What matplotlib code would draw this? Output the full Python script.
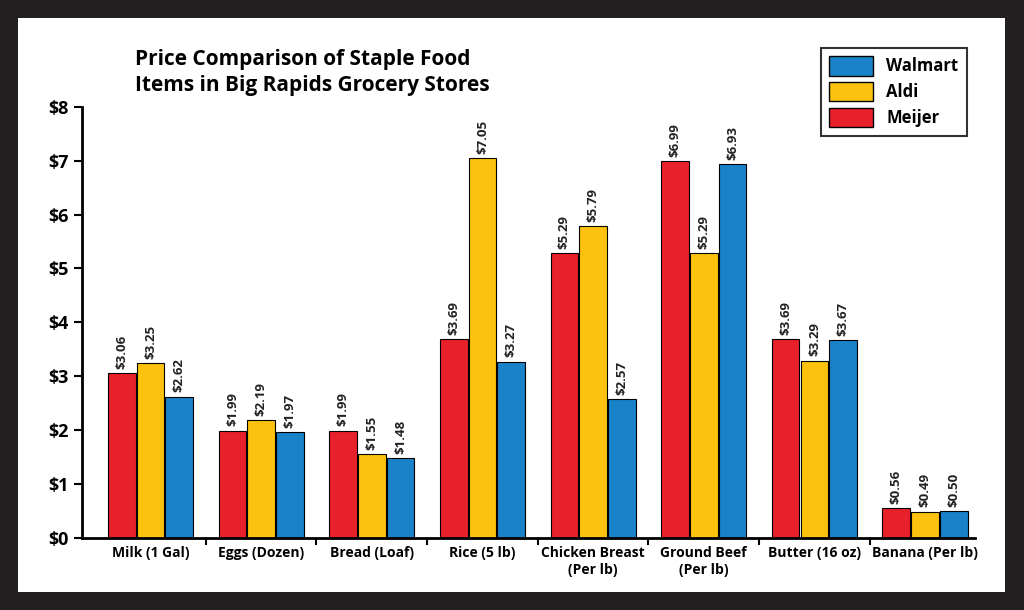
import numpy as np
import matplotlib.pyplot as plt
from matplotlib.patches import Rectangle, Patch

plt.rcParams['font.family'] = ['Open Sans', 'DejaVu Sans']
plt.rcParams['font.weight'] = 'bold'

categories = ['Milk (1 Gal)', 'Eggs (Dozen)', 'Bread (Loaf)', 'Rice (5 lb)',
              'Chicken Breast\n(Per lb)', 'Ground Beef\n(Per lb)', 'Butter (16 oz)', 'Banana (Per lb)']
meijer = [3.06, 1.99, 1.99, 3.69, 5.29, 6.99, 3.69, 0.56]
aldi = [3.25, 2.19, 1.55, 7.05, 5.79, 5.29, 3.29, 0.49]
walmart = [2.62, 1.97, 1.48, 3.27, 2.57, 6.93, 3.67, 0.50]

c_red, c_yel, c_blu = '#e8202a', '#fdc20d', '#1a82c8'

fig = plt.figure(figsize=(10.24, 6.1), dpi=100, facecolor='#231f20')
fig.patches.append(Rectangle((18/1024, 18/610), 987/1024, 574/610,
                             transform=fig.transFigure, facecolor='white', edgecolor='none', zorder=-1))
ax = fig.add_axes([0.080, 0.118, 0.872, 0.707])
ax.set_zorder(2)
ax.set_facecolor('none')

x = np.arange(len(categories))
w, step = 0.25, 0.26
for off, vals, col in [(-step, meijer, c_red), (0, aldi, c_yel), (step, walmart, c_blu)]:
    bars = ax.bar(x + off, vals, w, color=col, edgecolor='black', linewidth=0.8, zorder=2)
    for b, v in zip(bars, vals):
        ax.text(b.get_x() + b.get_width() / 2, v + 0.08, f'${v:.2f}', rotation=90,
                ha='center', va='bottom', fontsize=9.5, fontweight='bold', color='#222222')

ax.set_xlim(-0.62, 7.45)
ax.set_ylim(0, 8)
ax.set_yticks(range(9))
ax.set_yticklabels([f'${i}' for i in range(9)], fontsize=13, fontweight='bold')
ax.set_xticks(x)
ax.set_xticklabels(categories, fontsize=10, fontweight='bold')
ax.set_xticks(x[:-1] + 0.5, minor=True)
ax.tick_params(axis='x', which='major', length=0, pad=6)
ax.tick_params(axis='x', which='minor', length=5, width=1.5)
ax.tick_params(axis='y', length=6, width=1.5)
for s in ['top', 'right']:
    ax.spines[s].set_visible(False)
for s in ['left', 'bottom']:
    ax.spines[s].set_linewidth(2)

fig.text(0.132, 0.92, 'Price Comparison of Staple Food\nItems in Big Rapids Grocery Stores',
         fontsize=15, fontweight='bold', va='top', ha='left', linespacing=1.3)

handles = [Patch(facecolor=c_blu, edgecolor='black'), Patch(facecolor=c_yel, edgecolor='black'),
           Patch(facecolor=c_red, edgecolor='black')]
leg = fig.legend(handles, ['Walmart', 'Aldi', 'Meijer'], loc='upper right',
                 bbox_to_anchor=(0.952, 0.935), prop={'weight': 'bold', 'size': 12},
                 handlelength=2.6, handleheight=1.4, frameon=True, fancybox=False,
                 edgecolor='black', borderpad=0.5, labelspacing=0.4)
leg.get_frame().set_linewidth(1.5)

fig.savefig('out.png', dpi=100, facecolor=fig.get_facecolor())
